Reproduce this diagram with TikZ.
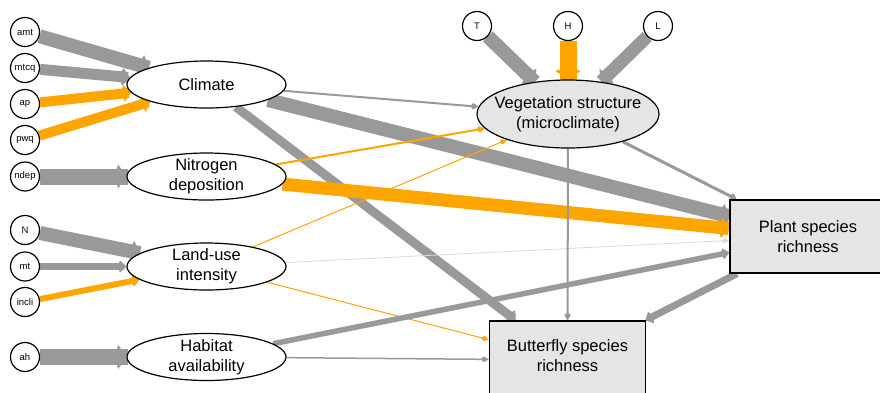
\documentclass[tikz,border=0pt]{standalone}
\usepackage{fontspec}
\setmainfont{Liberation Sans}
\usetikzlibrary{arrows.meta,shapes.geometric}
\pgfdeclarelayer{background}
\pgfsetlayers{background,main}
\definecolor{eg}{HTML}{999999}
\definecolor{eo}{HTML}{FFA500}
\definecolor{el}{HTML}{D9D9D9}
\definecolor{nf}{HTML}{E5E5E5}
\tikzset{
  sm/.style={circle, draw=black, line width=1.2pt, fill=white, minimum size=29pt, inner sep=0pt, font=\fontsize{9.5}{11}\selectfont},
  ell/.style={ellipse, draw=black, line width=1.2pt, fill=white, minimum width=159pt, minimum height=47pt, inner sep=0pt},
  vell/.style={ellipse, draw=black, line width=1.2pt, fill=nf, minimum width=182pt, minimum height=68pt, inner sep=0pt},
  bx/.style={rectangle, draw=black, line width=1.2pt, fill=nf, minimum width=156pt, minimum height=73pt, inner sep=0pt},
  txt/.style={align=center, inner sep=0pt, font=\fontsize{16.5}{20}\selectfont},
  ed/.style 2 args={line width=#1pt, draw=#2, -{Kite[length=7.5pt 0.3, width=4pt 1.25, inset=2.5pt 0.1]}},
}
\begin{document}
\begin{tikzpicture}[x=1pt, y=-1pt]
\clip (0,0) rectangle (880,392);
\useasboundingbox (0,0) rectangle (880,392);
% small circles
\node[sm] (amt) at (25,32) {amt};
\node[sm] (mtcq) at (25,68) {mtcq};
\node[sm] (ap) at (25,104) {ap};
\node[sm] (pwq) at (25,140) {pwq};
\node[sm] (ndep) at (25,176.5) {ndep};
\node[sm] (N) at (25,230) {N};
\node[sm] (mt) at (25,266.5) {mt};
\node[sm] (incli) at (25,302) {incli};
\node[sm] (ah) at (25,357) {ah};
\node[sm] (T) at (477,26) {T};
\node[sm] (H) at (568,26) {H};
\node[sm] (L) at (658,26) {L};
% latent ellipses
\node[ell, label={[txt]center:Climate}] (clim) at (206.5,84.5) {};
\node[ell, label={[txt]center:Nitrogen\\deposition}] (nit) at (206.5,176.5) {};
\node[ell, label={[txt]center:Land-use\\intensity}] (land) at (206.5,266.5) {};
\node[ell, label={[txt]center:Habitat\\availability}] (hab) at (206.5,357) {};
\node[vell, label={[txt]center:Vegetation structure\\(microclimate)}] (veg) at (568,114) {};
\node[bx, minimum width=160pt, label={[txt, xshift=-2pt]center:Plant species\\richness}] (plant) at (810,236.5) {};
\node[bx, minimum height=78pt, label={[txt, yshift=4pt]center:Butterfly species\\richness}] (butt) at (567.5,360) {};
\begin{pgfonlayer}{background}
\draw[ed={14}{eg}] (amt) -- (clim);
\draw[ed={11}{eg}] (mtcq) -- (clim);
\draw[ed={10}{eo}] (ap) -- (clim);
\draw[ed={10}{eo}] (pwq) -- (clim);
\draw[ed={16}{eg}] (ndep) -- (nit);
\draw[ed={14}{eg}] (N) -- (land);
\draw[ed={6.5}{eg}] (mt) -- (land);
\draw[ed={6}{eo}] (incli) -- (land);
\draw[ed={16}{eg}] (ah) -- (hab);
\draw[ed={14}{eg}] (T) -- (veg);
\draw[ed={17}{eo}] (H) -- (veg);
\draw[ed={13}{eg}] (L) -- (veg);
\draw[ed={2}{eg}] (clim) -- (veg);
\draw[ed={14}{eg}] (clim) -- (plant);
\draw[ed={9}{eg}] (clim) -- (butt);
\draw[ed={2}{eo}] (nit) -- (veg);
\draw[ed={13}{eo}] (nit) -- (plant);
\draw[ed={1}{eo}] (land) -- (veg);
\draw[ed={0.8}{el}] (land) -- (plant);
\draw[ed={1}{eo}] (land) -- (butt);
\draw[ed={5.5}{eg}] (hab) -- (plant);
\draw[ed={1.5}{eg}] (hab) -- (butt);
\draw[ed={3}{eg}] (veg) -- (plant);
\draw[ed={2}{eg}] (veg) -- (butt);
\draw[ed={7}{eg}] (plant) -- (butt);
\end{pgfonlayer}
\end{tikzpicture}
\end{document}
